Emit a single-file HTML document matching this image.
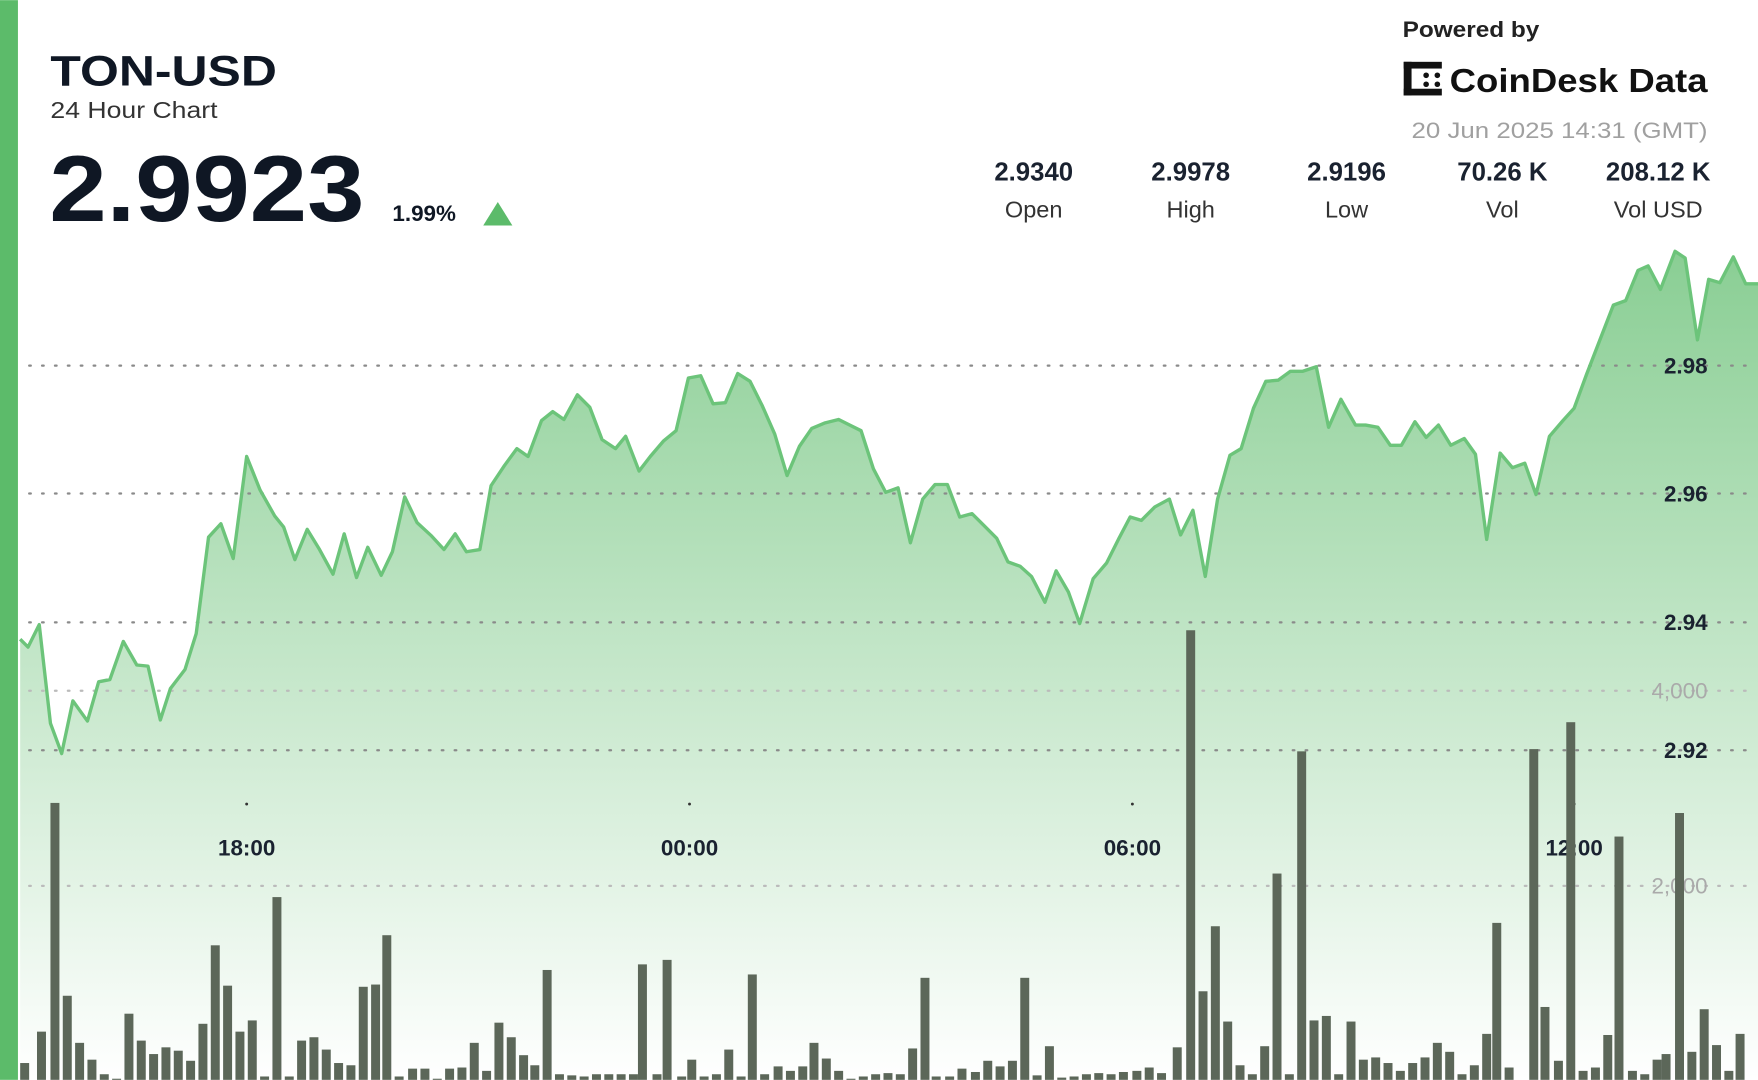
<!DOCTYPE html>
<html><head><meta charset="utf-8"><style>
html,body{margin:0;padding:0;background:#fff;width:1758px;height:1080px;overflow:hidden}
svg{display:block}
text{font-family:"Liberation Sans","DejaVu Sans",sans-serif}
</style></head><body>
<svg id="s" width="1758" height="1080" viewBox="0 0 1568 963" xmlns="http://www.w3.org/2000/svg">
<defs>
<linearGradient id="g" x1="0" y1="0" x2="0" y2="1">
<stop offset="0" stop-color="#5cbb6a" stop-opacity="0.72"/>
<stop offset="1" stop-color="#5cbb6a" stop-opacity="0"/>
</linearGradient>
</defs>
<rect x="0" y="0" width="1568" height="963" fill="#fff"/>
<path id="area" fill="url(#g)" stroke="none"/>
<g id="grid" stroke="#8a8a8a" stroke-width="2" stroke-dasharray="1.5 10" stroke-linecap="round">
<line x1="26" y1="326" x2="1560" y2="326"/>
<line x1="26" y1="440" x2="1560" y2="440"/>
<line x1="26" y1="555" x2="1560" y2="555"/>
<line x1="26" y1="669" x2="1560" y2="669"/>
<line x1="26" y1="616" x2="1560" y2="616" stroke="#bbb"/>
<line x1="26" y1="790" x2="1560" y2="790" stroke="#bbb"/>
</g>
<path id="line" fill="none" stroke="#6cc47a" stroke-width="3" stroke-linejoin="round"/>
<g font-weight="bold" font-size="20" fill="#1a2230" text-anchor="end">
<text x="1523" y="333">2.98</text>
<text x="1523" y="447">2.96</text>
<text x="1523" y="562">2.94</text>
<text x="1523" y="676">2.92</text>
</g>
<g font-size="20" fill="#aaa" text-anchor="end">
<text x="1523" y="623">4,000</text>
<text x="1523" y="797">2,000</text>
</g>
<g fill="#333"><circle cx="220" cy="717" r="1.3"/><circle cx="615" cy="717" r="1.3"/><circle cx="1010" cy="717" r="1.3"/><circle cx="1404" cy="717" r="1.3"/></g>
<g font-weight="bold" font-size="20" fill="#1a2230" text-anchor="middle">
<text x="220" y="763">18:00</text><text x="615" y="763">00:00</text><text x="1010" y="763">06:00</text><text x="1404" y="763">12:00</text>
</g>
<g id="bars" fill="#5c6759"></g>
<rect x="0" y="0" width="16" height="963" fill="#5cbb6a"/>
<g fill="#0f1724">
<text x="45" y="76" font-size="38" font-weight="bold" textLength="202" lengthAdjust="spacingAndGlyphs">TON-USD</text>
<text x="45" y="105" font-size="21" fill="#333" textLength="149" lengthAdjust="spacingAndGlyphs">24 Hour Chart</text>
<text x="44" y="197" font-size="84" font-weight="bold" textLength="281" lengthAdjust="spacingAndGlyphs">2.9923</text>
<text x="350" y="197" font-size="20" font-weight="bold">1.99%</text>
</g>
<polygon points="431,201 444,180 457,201" fill="#5cbb6a"/>
<g font-weight="bold" font-size="23" fill="#1a2230" text-anchor="middle">
<text x="922" y="161">2.9340</text><text x="1062" y="161">2.9978</text><text x="1201" y="161">2.9196</text><text x="1340" y="161">70.26 K</text><text x="1479" y="161">208.12 K</text>
</g>
<g font-size="21" fill="#333" text-anchor="middle">
<text x="922" y="194">Open</text><text x="1062" y="194">High</text><text x="1201" y="194">Low</text><text x="1340" y="194">Vol</text><text x="1479" y="194">Vol USD</text>
</g>
<text x="1251" y="33" font-size="20" font-weight="bold" fill="#222" textLength="122" lengthAdjust="spacingAndGlyphs">Powered by</text>
<g fill="#111"><rect x="1252" y="55" width="7" height="30"/><rect x="1252" y="55" width="34" height="6"/><rect x="1252" y="79" width="34" height="6"/><circle cx="1272" cy="67" r="2.5"/><circle cx="1282" cy="67" r="2.5"/><circle cx="1272" cy="75" r="2.5"/><circle cx="1282" cy="75" r="2.5"/></g>
<text x="1293" y="82" font-size="30" font-weight="bold" fill="#111" textLength="230" lengthAdjust="spacingAndGlyphs">CoinDesk Data</text>
<text x="1523" y="123" font-size="20" fill="#a0a0a0" text-anchor="end" textLength="264" lengthAdjust="spacingAndGlyphs">20 Jun 2025 14:31 (GMT)</text>
</svg>
<script>
var p=[[18,570],[25,577],[35,557],[45,645],[55,672],[65,625],[78,643],[88,608],[98,606],[110,572],[122,593],[132,594],[143,642],[152,614],[165,597],[175,565],[186,479],[197,467],[208,498],[220,407],[232,437],[245,460],[253,470],[263,499],[274,472],[285,490],[297,512],[307,476],[318,515],[328,488],[340,513],[350,492],[361,443],[372,466],[385,478],[396,490],[406,476],[416,492],[428,490],[438,433],[450,415],[461,400],[471,407],[483,375],[493,367],[503,374],[515,352],[526,363],[537,392],[549,400],[558,389],[570,420],[580,407],[592,393],[603,384],[614,337],[625,335],[636,360],[647,359],[658,333],[669,340],[680,362],[691,387],[702,424],[713,398],[724,382],[736,377],[748,374],[758,379],[768,384],[779,418],[790,439],[801,435],[812,484],[823,445],[834,432],[845,432],[856,461],[867,458],[878,469],[889,480],[899,501],[910,505],[920,514],[932,537],[942,509],[953,528],[963,556],[975,516],[987,502],[998,480],[1008,461],[1018,464],[1030,452],[1043,445],[1053,477],[1064,455],[1075,514],[1086,445],[1097,406],[1107,400],[1118,364],[1129,340],[1140,339],[1151,331],[1162,331],[1174,327],[1185,381],[1196,356],[1209,379],[1218,379],[1229,381],[1240,397],[1250,397],[1262,376],[1272,390],[1283,379],[1294,397],[1306,391],[1316,405],[1326,481],[1338,404],[1349,417],[1360,413],[1370,441],[1382,389],[1394,375],[1404,364],[1415,334],[1427,303],[1439,272],[1450,268],[1461,241],[1470,237],[1481,258],[1494,224],[1503,230],[1514,303],[1524,249],[1534,252],[1546,229],[1557,253],[1568,253]];
var d="M"+p.map(function(a){return a[0]+","+a[1]}).join(" L");
document.getElementById("line").setAttribute("d",d);
document.getElementById("area").setAttribute("d",d+" L1568,963 L18,963 Z");
var b=[[22,948],[37,920],[49,716],[60,888],[71,930],[82,945],[93,958],[104,962],[115,904],[126,928],[137,940],[148,934],[159,937],[170,946],[181,913],[192,843],[203,879],[214,920],[225,910],[236,960],[247,800],[258,960],[269,928],[280,925],[291,936],[302,948],[313,950],[324,880],[335,878],[345,834],[356,960],[368,953],[379,953],[390,962],[401,953],[412,952],[423,930],[434,955],[445,912],[456,925],[467,941],[477,950],[488,865],[499,958],[510,959],[521,960],[532,958],[543,958],[554,958],[565,958],[573,860],[586,958],[595,856],[608,960],[617,945],[628,960],[639,958],[650,936],[661,960],[671,869],[682,958],[694,951],[705,955],[716,951],[726,930],[737,944],[748,955],[759,962],[770,960],[781,958],[792,957],[803,958],[814,935],[825,872],[835,960],[847,960],[858,953],[870,956],[881,946],[892,951],[903,946],[914,872],[925,959],[936,933],[947,961],[958,960],[969,958],[980,957],[991,958],[1002,956],[1014,955],[1025,952],[1036,957],[1050,934],[1062,562],[1073,884],[1084,826],[1095,911],[1106,950],[1117,958],[1128,933],[1139,779],[1150,958],[1161,670],[1172,910],[1183,906],[1194,958],[1205,911],[1216,945],[1227,943],[1238,948],[1249,955],[1260,948],[1271,943],[1282,930],[1293,938],[1304,958],[1315,950],[1326,922],[1335,823],[1346,952],[1368,668],[1378,898],[1390,946],[1401,644],[1412,955],[1423,952],[1434,923],[1444,746],[1456,955],[1467,958],[1478,945],[1486,940],[1498,725],[1509,938],[1520,900],[1531,932],[1542,955],[1552,922]];
var g=document.getElementById("bars"),h="";
b.forEach(function(a){h+='<rect x="'+(a[0]-4)+'" y="'+a[1]+'" width="8" height="'+(963-a[1])+'"/>';});
g.innerHTML=h;
</script>
</body></html>
